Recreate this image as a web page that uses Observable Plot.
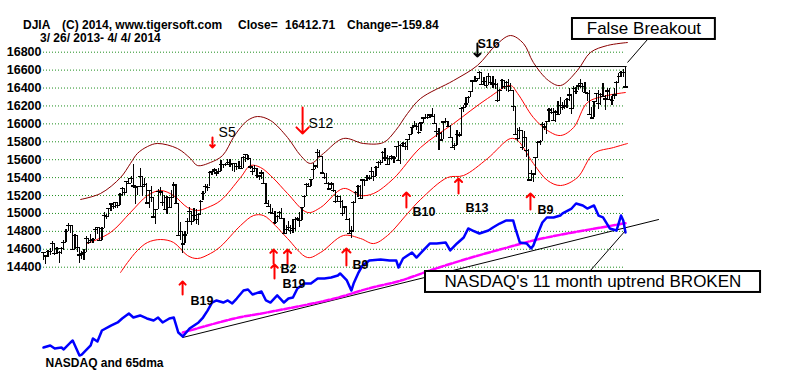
<!DOCTYPE html>
<html><head><meta charset="utf-8">
<script src="https://cdn.jsdelivr.net/npm/d3@7"></script>
<script src="https://cdn.jsdelivr.net/npm/@observablehq/plot@0.6"></script>
<style>
html,body{margin:0;padding:0;background:#fff;}
#chart{position:relative;width:800px;height:374px;}
</style></head><body><div id="chart"></div>
<script>
// ---------- DJIA daily bars, 3/26/2013 - 4/4/2014 (260 sessions) ----------
const closes = [
 14560,14526,14578,
 14572,14662,14550,14606,14565,14613,14673,14802,14865,14865,14599,14757,14619,14537,14547,14567,14719,14676,14700,14712,14818,14840,
 14700,14831,14973,14969,15056,15105,15082,15118,15091,15215,15275,15233,15354,15335,15387,15307,15294,15303,15409,15302,15324,15116,
 15254,15177,14960,15040,15248,15239,15122,15040,15176,15070,15180,15318,15112,14758,14800,14660,14760,14910,15024,14910,
 14975,14932,14988,15136,15225,15300,15291,15460,15464,15484,15452,15470,15548,15543,15545,15568,15542,15555,15559,15521,15520,15500,
 15628,15658,15612,15519,15471,15498,15425,15419,15451,15337,15112,15081,15010,15002,14897,14963,15010,14946,14776,14824,14840,14810,
 14834,14930,14937,14922,15063,15191,15326,15300,15376,15494,15529,15677,15636,15452,15401,15334,15273,15329,15258,15130,
 15192,15134,14997,15073,14936,14776,14803,15126,15238,15301,15168,15374,15372,15400,15392,15468,15413,15510,15571,15569,15680,15619,15546,
 15616,15639,15619,15747,15594,15762,15784,15751,15822,15877,15962,15976,15968,15900,16009,16065,16073,16073,16098,16086,
 16008,15915,15889,15821,16020,16025,15973,15844,15739,15755,15884,15875,16168,16179,16221,16294,16358,16479,16478,16505,16577,
 16441,16470,16426,16531,16463,16445,16437,16257,16374,16482,16418,16459,16414,16374,16198,15880,15838,15929,15739,15849,15699,
 15373,15445,15441,15629,15795,15802,15995,15964,16028,16154,16130,16040,16133,16104,16208,16180,16199,16273,16322,
 16169,16396,16361,16422,16453,16419,16352,16341,16109,16066,16248,16337,16223,16331,16303,16277,16368,16268,16264,16323,16458,
 16532,16573,16572,16412
];
const highs = [
 14563,14530,14585,
 14605,14684,14670,14625,14570,14615,14700,14826,14888,14870,14864,14760,14756,14619,14580,14600,14740,14720,14765,14725,14830,14845,
 14840,14840,15010,14990,15060,15105,15125,15120,15120,15226,15287,15280,15355,15390,15410,15542,15300,15305,15500,15407,15390,15330,
 15260,15300,15175,15045,15270,15290,15230,15200,15190,15180,15260,15340,15320,15110,14900,14800,14800,14940,15070,15020,
 15050,15040,15000,15140,15245,15320,15320,15470,15470,15500,15490,15500,15590,15545,15560,15604,15600,15560,15560,15560,15580,15630,
 15640,15660,15650,15615,15520,15530,15500,15425,15480,15450,15335,15140,15100,15050,15020,14980,15020,15050,14940,14870,14910,14860,
 14930,14950,14960,15010,15070,15195,15330,15330,15380,15560,15530,15710,15700,15640,15450,15450,15350,15350,15330,15250,
 15200,15190,15140,15080,15070,14940,14850,15130,15240,15310,15310,15380,15375,15420,15420,15510,15470,15520,15580,15590,15690,15720,15650,
 15640,15650,15640,15750,15800,15770,15790,15790,15825,15880,15965,16030,16000,16000,16020,16070,16100,16110,16110,16175,
 16100,16000,15950,15900,16030,16060,16030,15980,15850,15780,15930,15900,16170,16200,16290,16300,16360,16480,16530,16510,16590,
 16573,16520,16530,16560,16530,16530,16490,16450,16380,16500,16480,16470,16500,16450,16370,16190,15950,15960,15930,15910,15840,
 15710,15480,15450,15630,15800,15810,16020,16000,16030,16170,16170,16170,16150,16250,16290,16240,16260,16280,16400,
 16320,16420,16410,16450,16500,16450,16460,16350,16370,16180,16250,16340,16370,16340,16450,16320,16400,16400,16300,16400,16470,
 16560,16580,16610,16630
];
const lows = [
 14472,14431,14510,
 14530,14570,14530,14540,14436,14540,14590,14673,14800,14780,14596,14600,14560,14444,14490,14470,14568,14650,14675,14660,14710,14765,
 14687,14700,14832,14930,14970,15020,15040,15060,15055,15090,15190,15200,15236,15320,15330,15288,15100,15200,15305,15190,15300,15115,
 15050,15120,14940,14880,15040,15200,15080,15030,14990,15050,15070,15180,15110,14750,14700,14551,14660,14760,14910,14860,
 14910,14880,14860,14990,15140,15225,15250,15300,15420,15460,15415,15440,15470,15500,15520,15545,15510,15470,15460,15480,15490,15490,
 15505,15570,15590,15490,15420,15470,15390,15370,15380,15330,15110,15070,15000,14990,14880,14900,14930,14940,14770,14760,14800,14760,
 14780,14800,14910,14840,14925,15065,15190,15290,15300,15380,15490,15500,15630,15450,15380,15320,15260,15270,15230,15110,
 15120,15050,14970,14990,14930,14770,14720,14810,15110,15180,15160,15170,15300,15360,15370,15390,15360,15410,15500,15540,15570,15580,15530,
 15530,15590,15560,15630,15590,15550,15740,15700,15700,15820,15880,15960,15930,15880,15910,16000,16060,16050,16060,16080,
 15990,15850,15700,15810,15830,16010,15960,15840,15730,15700,15760,15850,15860,16130,16180,16230,16290,16360,16470,16470,16500,
 16430,16430,16400,16430,16430,16400,16380,16240,16260,16380,16380,16360,16350,16360,16140,15870,15800,15840,15700,15740,15630,
 15356,15360,15340,15440,15630,15760,15800,15930,15880,16020,16100,16030,16020,16100,16100,16150,16160,16170,16250,
 16110,16170,16330,16370,16400,16350,16340,16250,16090,16060,16070,16240,16160,16200,16300,16150,16280,16260,16200,16270,16320,
 16450,16520,16520,16395
];
const yTicks = [14400,14600,14800,15000,15200,15400,15600,15800,16000,16200,16400,16600,16800];

// ---------- bands (session index, DJIA level) ----------
const maroonDay = [16.5,25.4,34.3,38.7,41.8,46.3,50.7,59.6,65.4,68.5,74.3,79.7,84.5,87.7,90.8,95.2,101.0,108.6,114.4,118.8,124.6,133.5,142.4,151.3,156.7,162.0,167.8,182.5,193.1,201.2,207.8,213.6,218.0,224.7,230.1,237.6,243.4,251.0,259.9];
const maroonVal = [15156,15223,15401,15558,15670,15747,15781,15725,15613,15535,15569,15647,15848,15959,16038,16082,16038,15848,15647,15558,15670,15837,15781,15792,15926,16116,16283,16484,16652,16875,16986,16897,16685,16484,16428,16596,16797,16875,16908];
const upperDay = [19.6,29.8,38.7,46.3,52.1,57.9,64.1,68.5,73.0,78.8,87.7,92.1,96.6,102.4,108.6,117.5,123.3,133.5,141.1,146.9,155.8,167.8,182.5,197.6,207.8,211.0,218.0,224.3,230.1,235.9,242.1,251.0,259.0];
const upperVal = [14665,14787,15011,15200,15256,15200,15066,15033,15066,15144,15401,15535,15513,15390,15223,15011,15066,15279,15200,15223,15390,15736,16004,16283,16428,16339,16071,15926,15870,15959,16238,16317,16350];
const lowerDay = [34.3,37.4,41.8,46.3,52.1,57.9,64.1,68.5,74.3,78.8,87.7,93.5,97.9,103.2,108.6,117.5,123.3,133.5,141.1,146.9,153.1,162.0,167.8,179.8,186.9,197.6,207.8,211.0,218.0,224.3,230.1,237.6,244.8,253.7,259.9];
const lowerVal = [14341,14452,14586,14676,14709,14676,14530,14497,14553,14631,14865,14977,14977,14865,14720,14508,14564,14754,14720,14664,14754,14999,15156,15401,15423,15613,15836,15814,15558,15368,15312,15401,15669,15736,15781];

// ---------- NASDAQ, its 65dma and uptrend line (session index, NASDAQ level) ----------
const nasdaqDay = [0,3,5,8,9,12,13,14,16,17,21,22,24,26,30,33,35,38,40,43,46,49,51,53,56,58,60,62,65,69,71,73,75,77,80,82,84,86,89,91,93,97,99,101,104,107,109,111,113,116,119,122,125,128,131,132,135,137,138,140,142,145,150,154,157,158,160,164,166,169,172,175,179,181,184,187,189,191,194,198,200,203,206,209,210,212,215,217,218,220,222,224,227,230,231,235,237,240,242,245,247,249,252,255,257,258,259];
const nasdaqVal = [3243,3259,3236,3243,3228,3282,3297,3259,3181,3189,3259,3313,3290,3375,3413,3437,3468,3506,3475,3491,3468,3452,3475,3437,3468,3475,3359,3328,3390,3437,3475,3529,3591,3607,3591,3607,3584,3622,3684,3692,3653,3676,3607,3591,3646,3591,3622,3630,3700,3738,3738,3777,3777,3785,3800,3816,3762,3684,3738,3816,3878,3916,3924,3916,3916,3862,3932,3978,3939,3994,4048,4048,4055,3994,4048,4094,4164,4148,4125,4148,4171,4202,4226,4226,4164,4055,4048,4009,4032,4125,4210,4249,4249,4264,4280,4318,4357,4342,4318,4342,4264,4249,4164,4148,4264,4226,4133];
const ma65Day = [62,85,100,129,144,159,173,189,205,218,233,248,259];
const ma65Val = [3359,3468,3516,3620,3697,3761,3845,3932,4010,4071,4125,4171,4205];
const trendDay = [62,273.7];
const trendVal = [3321,4233];

// ---------- annotations ----------
const resistanceLevel = 16640;
const signals = [
  {label:"S5",  lx:77.9,  ly:15904, ax:75.2,  a1:15848, a2:15736, color:"red",   bold:false},
  {label:"S12", lx:117.9, ly:16004, ax:115.3, a1:16183, a2:15892, color:"red",   bold:false},
  {label:"S16", lx:193.1, ly:16886, ax:193.1, a1:16897, a2:16752, color:"black", bold:true},
  {label:"B19", lx:65.4,  ly:14028, ax:61.9,  a1:14095, a2:14240, color:"red",   bold:true},
  {label:"B2",  lx:105.5, ly:14380, ax:102.4, a1:14441, a2:14597, color:"red",   bold:true},
  {label:"B19", lx:106.4, ly:14212, ax:102.8, a1:14274, a2:14430, color:"red",   bold:true},
  {label:"",    lx:108.6, ly:14430, ax:108.6, a1:14430, a2:14597, color:"red",   bold:true},
  {label:"B9",  lx:137.5, ly:14419, ax:134.8, a1:14419, a2:14609, color:"red",   bold:true},
  {label:"B10", lx:164.2, ly:15011, ax:161.5, a1:15066, a2:15234, color:"red",   bold:true},
  {label:"B13", lx:187.8, ly:15066, ax:184.7, a1:15223, a2:15390, color:"red",   bold:true},
  {label:"B9",  lx:219.8, ly:15033, ax:216.7, a1:15044, a2:15223, color:"red",   bold:true}
];

// NASDAQ panel is drawn in its own scaling onto the chart's vertical axis
const nasdaqToY = n => 13392 + 1.4434 * (n - 3166);

const days = closes.map((c, i) => ({i, close: c, high: highs[i], low: lows[i]}));
const pts = (xs, ys) => xs.map((x, k) => ({x, y: ys[k]}));
const maroon = pts(maroonDay, maroonVal);
const upper = pts(upperDay, upperVal);
const lower = pts(lowerDay, lowerVal);
const nasdaq = pts(nasdaqDay, nasdaqVal.map(nasdaqToY));
const ma65 = pts(ma65Day, ma65Val.map(nasdaqToY));
const trend = pts(trendDay, trendVal.map(nasdaqToY));

const FONT = "Liberation Sans, Arial, sans-serif";

const chart = Plot.plot({
  width: 800, height: 374,
  marginLeft: 43, marginRight: 175, marginTop: 51.7, marginBottom: 107.3,
  style: {fontFamily: FONT, background: "white", overflow: "visible"},
  x: {domain: [0, 259], range: [43, 625], axis: null},
  y: {domain: [14400, 16800], range: [266.7, 51.7]},
  marks: [
    Plot.ruleY(yTicks, {stroke: "#1f8f1f", strokeDasharray: "1,2", strokeWidth: 1}),
    Plot.axisY(yTicks, {anchor: "left", tickSize: 0, tickPadding: 2, tickFormat: "d",
      fontSize: 12.5, fontWeight: "bold", fill: "black"}),
    Plot.line(maroon, {x: "x", y: "y", stroke: "#8b0000", strokeWidth: 1, curve: "catmull-rom"}),
    Plot.line(upper, {x: "x", y: "y", stroke: "#ff0000", strokeWidth: 1, curve: "catmull-rom"}),
    Plot.line(lower, {x: "x", y: "y", stroke: "#ff0000", strokeWidth: 1, curve: "catmull-rom"}),
    Plot.line(trend, {x: "x", y: "y", stroke: "black", strokeWidth: 1}),
    Plot.line(ma65, {x: "x", y: "y", stroke: "#ff00ff", strokeWidth: 2.5, strokeDasharray: "6,2", curve: "catmull-rom"}),
    Plot.line(nasdaq, {x: "x", y: "y", stroke: "#0000ff", strokeWidth: 2.5}),
    Plot.ruleX(days, {x: "i", y1: "low", y2: "high", stroke: "black", strokeWidth: 1.2, shapeRendering: "crispEdges"}),
    Plot.link(days, {x1: d => d.i - 1, x2: d => d.i + 1, y1: "close", y2: "close", stroke: "black", strokeWidth: 1.2, shapeRendering: "crispEdges"}),
    // resistance line and pointer to the "False Breakout" box
    Plot.link([{x1: 193.6, x2: 259.5, y1: resistanceLevel, y2: resistanceLevel}], {x1: "x1", x2: "x2", y1: "y1", y2: "y2", stroke: "black", strokeWidth: 1}),
    Plot.link([{x1: 268.8, y1: 16942, x2: 259.9, y2: 16685}], {x1: "x1", x2: "x2", y1: "y1", y2: "y2", stroke: "black", strokeWidth: 1}),
    Plot.link([{x1: 243.4, y1: 14363, x2: 258.6, y2: 14798}], {x1: "x1", x2: "x2", y1: "y1", y2: "y2", stroke: "black", strokeWidth: 1}),
    // signal arrows and labels
    Plot.arrow(signals, {x1: "ax", x2: "ax", y1: "a1", y2: "a2", stroke: "color", strokeWidth: 2, headLength: 7, headAngle: 90}),
    Plot.text(signals.filter(d => !d.bold), {x: "lx", y: "ly", text: "label", textAnchor: "start", fontSize: 14, fill: "black"}),
    Plot.text(signals.filter(d => d.bold && d.label), {x: "lx", y: "ly", text: "label", textAnchor: "start", fontSize: 12.5, fontWeight: "bold", fill: "black"}),
    Plot.text(["NASDAQ and 65dma"], {x: 0.9, y: 13325, text: d => d, textAnchor: "start", fontSize: 12, fontWeight: "bold", fill: "black"}),
    // boxed comments
    Plot.rect([{x1: 235.4, x2: 299.0, y1: 17176, y2: 16942}], {x1: "x1", x2: "x2", y1: "y1", y2: "y2", fill: "white", stroke: "black", strokeWidth: 2}),
    Plot.text(["False Breakout"], {x: 267.2, y: 17059, text: d => d, fontSize: 17, fill: "black"}),
    Plot.rect([{x1: 170.0, x2: 319.1, y1: 14352, y2: 14118}], {x1: "x1", x2: "x2", y1: "y1", y2: "y2", fill: "white", stroke: "black", strokeWidth: 2}),
    Plot.text(["NASDAQ's 11 month uptrend BROKEN"], {x: 244.5, y: 14235, text: d => d, fontSize: 17, fill: "black"})
  ]
});
document.getElementById("chart").append(chart);

// title lines
const titleParts = [
  {t: "DJIA", x: 23, y: 29}, {t: "(C) 2014, www.tigersoft.com", x: 62, y: 29},
  {t: "Close=", x: 238, y: 29}, {t: "16412.71", x: 285, y: 29}, {t: "Change=-159.84", x: 347, y: 29},
  {t: "3/ 26/ 2013- 4/ 4/ 2014", x: 40, y: 42}
];
d3.select(chart).append("g").attr("text-anchor", "start").selectAll("text").data(titleParts).join("text")
  .attr("x", d => d.x).attr("y", d => d.y).attr("text-anchor", "start").text(d => d.t)
  .attr("font-family", FONT).attr("font-size", 12).attr("font-weight", "bold")
  .attr("fill", "black").style("white-space", "pre");
</script></body></html>
